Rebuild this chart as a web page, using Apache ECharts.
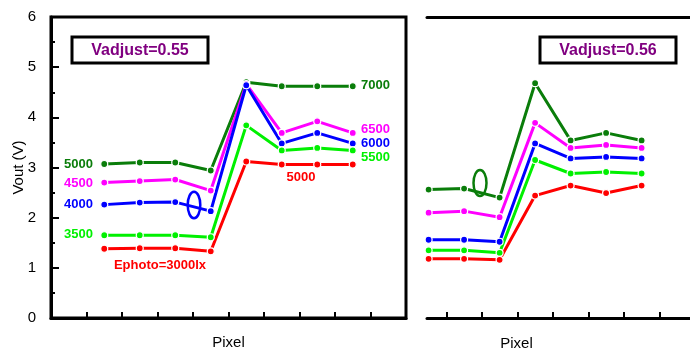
<!DOCTYPE html>
<html>
<head>
<meta charset="utf-8">
<script src="https://cdn.jsdelivr.net/npm/echarts@6/dist/echarts.min.js"></script>
<style>html,body{margin:0;padding:0;background:#fff}#c{width:690px;height:353px}</style>
</head>
<body>
<div id="c"></div>
<script>
// ---- data ----
const leftPixels = [1, 2, 3, 4, 5, 6, 7, 8];
const rightPixels = [1, 2, 3, 4, 5, 6, 7];
const leftTicks = [0.5, 1.5, 2.5, 3.5, 4.5, 5.5, 6.5, 7.5, 8.5];
const rightTicks = [1.5, 2.5, 3.5, 4.5, 5.5, 6.5, 7.5];
const yTicks = [0, 1, 2, 3, 4, 5, 6];

const leftDarkGreen = [3.07, 3.10, 3.10, 2.94, 4.70, 4.62, 4.62, 4.62];
const leftMagenta   = [2.70, 2.73, 2.76, 2.54, 4.66, 3.69, 3.92, 3.69];
const leftBlue      = [2.26, 2.30, 2.31, 2.13, 4.64, 3.48, 3.69, 3.48];
const leftGreen     = [1.65, 1.65, 1.65, 1.61, 3.84, 3.34, 3.39, 3.34];
const leftRed       = [1.38, 1.39, 1.39, 1.33, 3.12, 3.06, 3.06, 3.06];

const rightDarkGreen = [2.56, 2.58, 2.40, 4.68, 3.54, 3.69, 3.54];
const rightMagenta   = [2.10, 2.13, 2.01, 3.89, 3.39, 3.45, 3.39];
const rightBlue      = [1.56, 1.56, 1.52, 3.48, 3.18, 3.21, 3.18];
const rightGreen     = [1.35, 1.35, 1.30, 3.15, 2.88, 2.91, 2.88];
const rightRed       = [1.18, 1.18, 1.16, 2.44, 2.64, 2.49, 2.64];

const leftTitle = 'Vadjust=0.55';
const rightTitle = 'Vadjust=0.56';
const yName = 'Vout (V)';
const xName = 'Pixel';

// ---- styles ----
const FONT = "'Liberation Sans', Arial, sans-serif";
const C = { dg: '#0a7d0a', mg: '#ff00ff', bl: '#0000ff', gr: '#00f000', rd: '#ff0000', pu: '#800080' };

function mk(name, px, vals, color, xi) {
  return {
    name, type: 'line', xAxisIndex: xi, yAxisIndex: xi,
    data: px.map((p, i) => [p, vals[i]]),
    symbol: 'circle', symbolSize: 7,
    lineStyle: { color, width: 3 },
    itemStyle: { color, borderColor: '#fff', borderWidth: 1.2 },
    z: 3
  };
}

const chart = echarts.init(document.getElementById('c'), null, { renderer: 'canvas' });

function lbl(text, x, y, color, align, size, bold) {
  return { type: 'text', x, y, z: 10,
    style: { text, fill: color, font: (bold ? 'bold ' : '') + size + 'px ' + FONT, align: align, verticalAlign: 'middle' } };
}

chart.setOption({
  animation: false,
  backgroundColor: '#fff',
  grid: [
    { left: 51, top: 17, width: 355, height: 301, show: true, borderColor: '#000', borderWidth: 3,
      backgroundColor: 'transparent', containLabel: false, outerBoundsMode: 'none' },
    { left: 427, top: 17, width: 263, height: 301, show: false, containLabel: false, outerBoundsMode: 'none' }
  ],
  xAxis: [
    { type: 'value', gridIndex: 0, min: -0.5, max: 9.5, position: 'bottom',
      name: xName, nameLocation: 'middle', nameGap: 17, nameMoveOverlap: false,
      nameTextStyle: { fontFamily: FONT, fontSize: 15, color: '#000' },
      axisLine: { show: true, onZero: false, lineStyle: { color: '#000', width: 3 } },
      axisTick: { show: true, inside: true, length: 6, lineStyle: { color: '#000', width: 2 }, customValues: leftTicks },
      axisLabel: { show: false }, splitLine: { show: false } },
    { type: 'value', gridIndex: 1, min: 0.955, max: 8.363, position: 'bottom',
      axisLine: { show: true, onZero: false, lineStyle: { color: '#000', width: 3 } },
      axisTick: { show: true, inside: true, length: 6, lineStyle: { color: '#000', width: 2 }, customValues: rightTicks },
      axisLabel: { show: false }, splitLine: { show: false } },
    { type: 'value', gridIndex: 1, min: 0.955, max: 8.363, position: 'top',
      axisLine: { show: true, onZero: false, lineStyle: { color: '#000', width: 3 } },
      axisTick: { show: false }, axisLabel: { show: false }, splitLine: { show: false } }
  ],
  yAxis: [
    { type: 'value', gridIndex: 0, min: 0, max: 6, interval: 1, position: 'left',
      name: yName, nameLocation: 'middle', nameGap: 25, nameRotate: 90, nameMoveOverlap: false,
      nameTextStyle: { fontFamily: FONT, fontSize: 15, color: '#000' },
      axisLine: { show: true, onZero: false, lineStyle: { color: '#000', width: 3 } },
      axisTick: { show: true, inside: true, length: 8, lineStyle: { color: '#000', width: 2 } },
      minorTick: { show: true, splitNumber: 2, length: 4, lineStyle: { color: '#000', width: 2 } },
      axisLabel: { fontFamily: FONT, fontSize: 15, color: '#000', margin: 15 },
      splitLine: { show: false } },
    { type: 'value', gridIndex: 1, min: 0, max: 6, interval: 1, show: false }
  ],
  series: [
    mk('L7000', leftPixels, leftDarkGreen, C.dg, 0),
    mk('L6500', leftPixels, leftMagenta, C.mg, 0),
    mk('L6000', leftPixels, leftBlue, C.bl, 0),
    mk('L5500', leftPixels, leftGreen, C.gr, 0),
    mk('L5000', leftPixels, leftRed, C.rd, 0),
    mk('R7000', rightPixels, rightDarkGreen, C.dg, 1),
    mk('R6500', rightPixels, rightMagenta, C.mg, 1),
    mk('R6000', rightPixels, rightBlue, C.bl, 1),
    mk('R5500', rightPixels, rightGreen, C.gr, 1),
    mk('R5000', rightPixels, rightRed, C.rd, 1)
  ],
  graphic: [
    { type: 'rect', shape: { x: 72, y: 37, width: 136, height: 26 }, z: 10,
      style: { fill: '#fff', stroke: '#000', lineWidth: 3 } },
    lbl(leftTitle, 140, 50.5, C.pu, 'center', 16, true),
    { type: 'rect', shape: { x: 540, y: 37, width: 136, height: 26 }, z: 10,
      style: { fill: '#fff', stroke: '#000', lineWidth: 3 } },
    lbl(rightTitle, 608, 50.5, C.pu, 'center', 16, true),
    lbl('5000', 93, 164, C.dg, 'right', 13, true),
    lbl('4500', 93, 183, C.mg, 'right', 13, true),
    lbl('4000', 93, 204, C.bl, 'right', 13, true),
    lbl('3500', 93, 234, C.gr, 'right', 13, true),
    lbl('Ephoto=3000lx', 160, 265, C.rd, 'center', 13, true),
    lbl('7000', 361, 85, C.dg, 'left', 13, true),
    lbl('6500', 361, 129, C.mg, 'left', 13, true),
    lbl('6000', 361, 143, C.bl, 'left', 13, true),
    lbl('5500', 361, 157, C.gr, 'left', 13, true),
    lbl('5000', 301, 177, C.rd, 'center', 13, true),
    lbl(xName, 516.5, 344, '#000', 'center', 15, false),
    { type: 'ellipse', shape: { cx: 194, cy: 205, rx: 6.3, ry: 13.3 }, z: 10,
      style: { fill: 'none', stroke: C.bl, lineWidth: 2.5 } },
    { type: 'ellipse', shape: { cx: 480, cy: 183, rx: 6.5, ry: 13 }, z: 10,
      style: { fill: 'none', stroke: C.dg, lineWidth: 2.5 } }
  ]
});
</script>
</body>
</html>
